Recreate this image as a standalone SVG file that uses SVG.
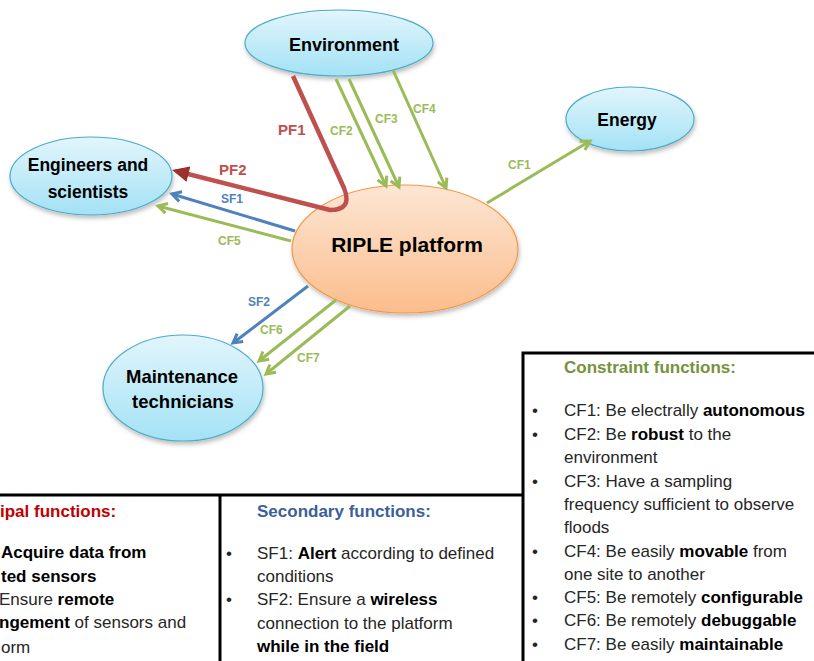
<svg xmlns="http://www.w3.org/2000/svg" width="814" height="661" viewBox="0 0 814 661">
<defs>
<linearGradient id="gBlue" x1="0" y1="0" x2="0" y2="1">
<stop offset="0" stop-color="#e2f5fc"/>
<stop offset="1" stop-color="#a3e2f5"/>
</linearGradient>
<linearGradient id="gOrange" x1="0" y1="0" x2="0" y2="1">
<stop offset="0" stop-color="#fde6d4"/>
<stop offset="1" stop-color="#fbbd8c"/>
</linearGradient>
<filter id="sh" x="-20%" y="-20%" width="140%" height="150%">
<feDropShadow dx="1" dy="3" stdDeviation="2" flood-color="#000" flood-opacity="0.25"/>
</filter>
<marker id="aG" viewBox="0 0 12 12" refX="10" refY="6" markerWidth="12" markerHeight="12" markerUnits="userSpaceOnUse" orient="auto" overflow="visible">
<path d="M1,1 L10,6 L1,11" fill="none" stroke="#9bbb59" stroke-width="3"/>
</marker>
<marker id="aB" viewBox="0 0 12 12" refX="10" refY="6" markerWidth="12" markerHeight="12" markerUnits="userSpaceOnUse" orient="auto" overflow="visible">
<path d="M1,1 L10,6 L1,11" fill="none" stroke="#4f81bd" stroke-width="3"/>
</marker>
<marker id="aR" viewBox="0 0 16 14" refX="4" refY="7" markerWidth="16" markerHeight="14" markerUnits="userSpaceOnUse" orient="auto" overflow="visible">
<path d="M0,0 L15,7 L0,14 z" fill="#a0302e" stroke="#8c2a28" stroke-width="1"/>
</marker>
</defs>
<style>
.nb{fill:url(#gBlue);stroke:#4bacc6;stroke-width:1.2;filter:url(#sh)}
.no{fill:url(#gOrange);stroke:#f79646;stroke-width:1.2;filter:url(#sh)}
.nt{font-family:"Liberation Sans",Arial,sans-serif;font-weight:bold;fill:#000;text-anchor:middle}
.cg{fill:none;stroke:#9bbb59;stroke-width:3;marker-end:url(#aG)}
.cb{fill:none;stroke:#4f81bd;stroke-width:3;marker-end:url(#aB)}
.cr{fill:none;stroke:#c0504d;stroke-width:4.5;stroke-linejoin:round;marker-end:url(#aR)}
.lb{font-family:"Liberation Sans",Arial,sans-serif;font-weight:bold;font-size:12px}
.lg{fill:#9bbb59}
.lbl{fill:#4f81bd}
.lr{fill:#c0504d;font-size:15px}
.tb{fill:none;stroke:#000;stroke-width:3}
.tx{font-family:"Liberation Sans",Arial,sans-serif;font-size:17px;fill:#262626}
.b{font-weight:bold;fill:#000}
.hd{font-family:"Liberation Sans",Arial,sans-serif;font-size:17px;font-weight:bold}
</style>

<g id="node-environment">
<ellipse class="nb" cx="339" cy="43" rx="94" ry="33"/>
<text class="nt" x="344" y="51" font-size="18">Environment</text>
</g>
<g id="node-energy">
<ellipse class="nb" cx="630" cy="119" rx="64" ry="32"/>
<text class="nt" x="627" y="126" font-size="17.5">Energy</text>
</g>
<g id="node-engineers">
<ellipse class="nb" cx="91" cy="176" rx="81" ry="39"/>
<text class="nt" x="88" y="171" font-size="17.5">Engineers and</text>
<text class="nt" x="88" y="198" font-size="17.5">scientists</text>
</g>
<g id="node-riple">
<ellipse class="no" cx="405" cy="249" rx="113" ry="64"/>
<text class="nt" x="407" y="252" font-size="21">RIPLE platform</text>
</g>
<g id="node-maintenance">
<ellipse class="nb" cx="183" cy="388" rx="80" ry="53"/>
<text class="nt" x="182" y="383" font-size="18.5">Maintenance</text>
<text class="nt" x="183" y="408" font-size="18.5">technicians</text>
</g>

<g id="connectors">
<path class="cr" d="M293,76 L344,188 Q353,210 330,210 L184,173"/>
<path class="cg" d="M336,79 L386,186"/>
<path class="cg" d="M349,79 L399,187"/>
<path class="cg" d="M393,70 L446,188"/>
<path class="cg" d="M487,203 L590,141"/>
<path class="cb" d="M295,231 L172,194"/>
<path class="cg" d="M291,241 L158,206"/>
<path class="cb" d="M308,286 L233,343"/>
<path class="cg" d="M336,300 L259,361"/>
<path class="cg" d="M350,306 L266,374"/>
<text class="lb lr" x="278" y="135">PF1</text>
<text class="lb lr" x="219" y="175">PF2</text>
<text class="lb lg" x="330" y="135">CF2</text>
<text class="lb lg" x="375" y="123">CF3</text>
<text class="lb lg" x="413" y="113">CF4</text>
<text class="lb lg" x="508" y="169">CF1</text>
<text class="lb lbl" x="221" y="203">SF1</text>
<text class="lb lg" x="218" y="245">CF5</text>
<text class="lb lbl" x="248" y="306">SF2</text>
<text class="lb lg" x="260" y="334">CF6</text>
<text class="lb lg" x="297" y="362">CF7</text>
</g>

<g id="tables">
<path class="tb" d="M0,495 H522 M220,495 V661 M523,353 V661 M521.5,353 H814"/>
<text class="hd" x="0" y="517" fill="#c00000">ipal functions:</text>
<text class="tx" x="1" y="558"><tspan class="b">Acquire data from</tspan></text>
<text class="tx" x="1" y="582"><tspan class="b">ted sensors</tspan></text>
<text class="tx" x="-1" y="605">Ensure <tspan class="b">remote</tspan></text>
<text class="tx" x="-1" y="628"><tspan class="b">ngement</tspan> of sensors and</text>
<text class="tx" x="1" y="653">orm</text>

<text class="hd" x="257" y="517" fill="#3b5f98">Secondary functions:</text>
<text class="tx" x="226" y="559">•</text>
<text class="tx" x="257" y="559">SF1: <tspan class="b">Alert</tspan> according to defined</text>
<text class="tx" x="257" y="582">conditions</text>
<text class="tx" x="226" y="605">•</text>
<text class="tx" x="257" y="605">SF2: Ensure a <tspan class="b">wireless</tspan></text>
<text class="tx" x="257" y="629">connection to the platform</text>
<text class="tx" x="257" y="652"><tspan class="b">while in the field</tspan></text>

<text class="hd" x="564" y="373" fill="#76923c">Constraint functions:</text>
<text class="tx" x="532" y="416">•</text>
<text class="tx" x="564" y="416">CF1: Be electrally <tspan class="b">autonomous</tspan></text>
<text class="tx" x="532" y="440">•</text>
<text class="tx" x="564" y="440">CF2: Be <tspan class="b">robust</tspan> to the</text>
<text class="tx" x="564" y="463">environment</text>
<text class="tx" x="532" y="487">•</text>
<text class="tx" x="564" y="487">CF3: Have a sampling</text>
<text class="tx" x="564" y="510">frequency sufficient to observe</text>
<text class="tx" x="564" y="533">floods</text>
<text class="tx" x="532" y="557">•</text>
<text class="tx" x="564" y="557">CF4: Be easily <tspan class="b">movable</tspan> from</text>
<text class="tx" x="564" y="580">one site to another</text>
<text class="tx" x="532" y="603">•</text>
<text class="tx" x="564" y="603">CF5: Be remotely <tspan class="b">configurable</tspan></text>
<text class="tx" x="532" y="626">•</text>
<text class="tx" x="564" y="626">CF6: Be remotely <tspan class="b">debuggable</tspan></text>
<text class="tx" x="532" y="650">•</text>
<text class="tx" x="564" y="650">CF7: Be easily <tspan class="b">maintainable</tspan></text>
</g>
</svg>
